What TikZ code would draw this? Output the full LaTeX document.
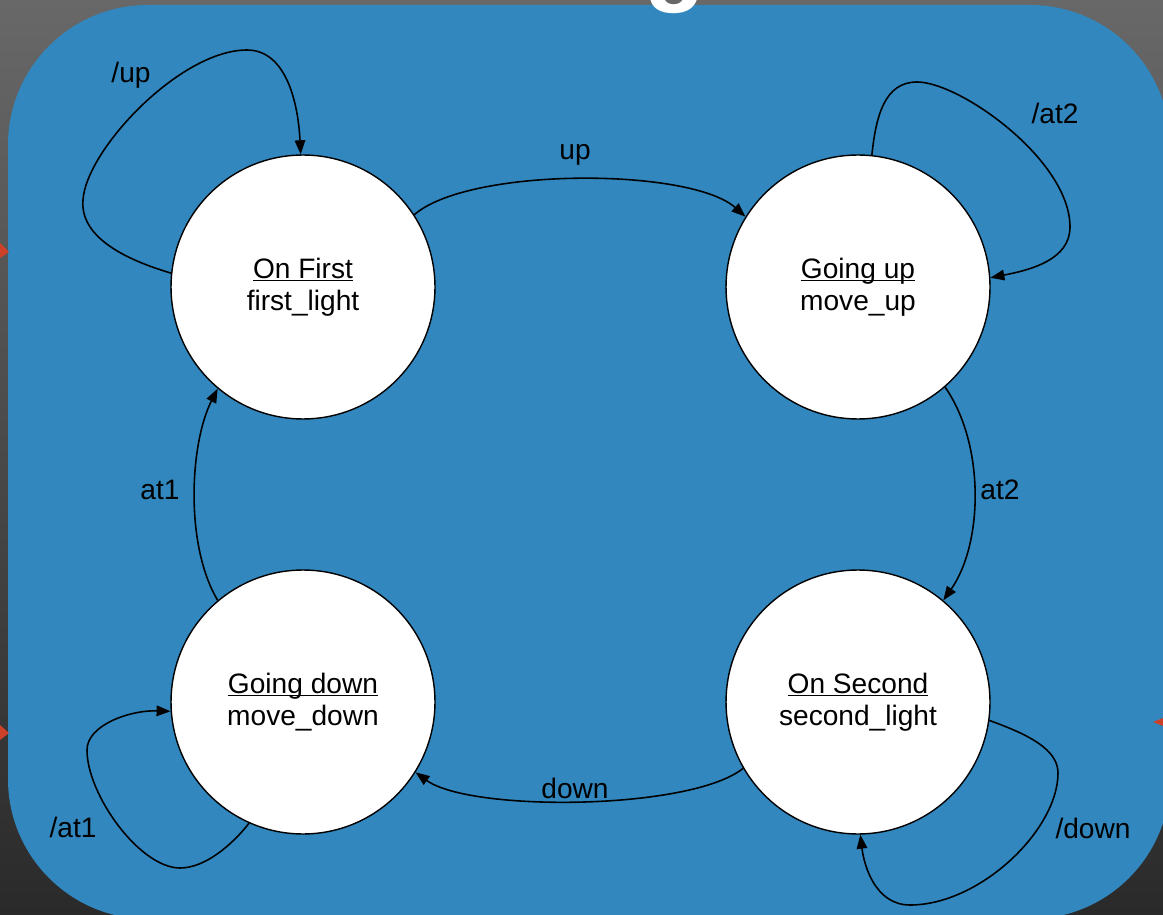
\documentclass[tikz,border=0pt]{standalone}
\usepackage{fontspec}
\setmainfont{Liberation Sans}
\usetikzlibrary{arrows.meta}
\definecolor{slideblue}{RGB}{49,135,190}
\definecolor{slidered}{RGB}{205,65,40}
\definecolor{slidetop}{RGB}{104,104,104}
\definecolor{slidebot}{RGB}{42,42,42}
\newcommand{\stname}[1]{\underline{\raisebox{0pt}[\height][0pt]{#1}}}

\begin{document}
\begin{tikzpicture}[x=0.02cm, y=-0.02cm,
	state/.style={circle, draw, fill=white, line width=0.8pt, minimum size=5.28cm, inner sep=0pt, align=center, font=\fontsize{16}{18.5}\selectfont},
	arr/.style={-{Triangle[length=8pt,width=6pt]}, line width=0.9pt},
	lbl/.style={font=\fontsize{16}{18}\selectfont}]
		% slide behind the diagram
		\useasboundingbox (0,0) rectangle (1163,915);
		\shade[top color=slidetop, bottom color=slidebot] (0,0) rectangle (1163,915);
		\fill[slideblue, rounded corners=2.8cm] (8,5) rectangle (1170,919);
		\node[text=white, font=\fontsize{57}{57}\selectfont\bfseries, anchor=base, inner sep=0pt] (title) at (675,-7) {g};
		\fill[slidered] (0,243) -- (9,252) -- (0,258) -- cycle;
		\fill[slidered] (0,725) -- (9,733) -- (0,740) -- cycle;
		\fill[slidered] (1163,718) -- (1153,722) -- (1163,726) -- cycle;
		% states
		\node[state] (first) at (303,287) {\stname{On First}\\first\_light};
		\node[state] (goup) at (858,287) {\stname{Going up}\\move\_up};
		\node[state] (godown) at (303,702) {\stname{Going down}\\move\_down};
		\node[state] (second) at (858,702) {\stname{On Second}\\second\_light};
		% transitions
		\draw[arr] (first.33) .. controls +(55,-48) and +(-55,-49) .. (goup.148);
		\draw[arr] (goup.-49) .. controls +(40,57) and +(40,-57) .. (second.50);
		\draw[arr] (second.-150) .. controls +(-52,42) and +(55,40) .. (godown.-32);
		\draw[arr] (godown.130) .. controls +(-33,-55) and +(-28,55) .. (first.-130);
		% self loops
		\draw[arr] (first.174) .. controls (120,258) and (80,235) .. (83,200) .. controls (86,150) and (180,50) .. (247,50) .. controls (285,50) and (298,100) .. (first.91);
		\draw[arr] (goup.84) .. controls (876,115) and (885,82) .. (917,82) .. controls (960,82) and (1070,160) .. (1070,227) .. controls (1070,260) and (1030,270) .. (goup.4);
		\draw[arr] (godown.-114) .. controls (232,845) and (205,868) .. (180,868) .. controls (140,868) and (87,795) .. (87,750) .. controls (87,725) and (130,710) .. (godown.184);
		\draw[arr] (second.-8) .. controls (1030,735) and (1058,750) .. (1058,773) .. controls (1058,830) and (980,905) .. (910,905) .. controls (875,905) and (864,865) .. (second.-89);
		% labels
		\node[lbl] (lup) at (575,155) {up};
		\node[lbl] (lat2) at (1000,490) {at2};
		\node[lbl] (ldown) at (575,788) {down};
		\node[lbl] (lat1) at (160,490) {at1};
		\node[lbl] (lselfup) at (131,75) {/up};
		\node[lbl] (lselfat2) at (1055,113) {/at2};
		\node[lbl] (lselfat1) at (73,827) {/at1};
		\node[lbl] (lselfdown) at (1093,828) {/down};
	\end{tikzpicture}
\end{document}
